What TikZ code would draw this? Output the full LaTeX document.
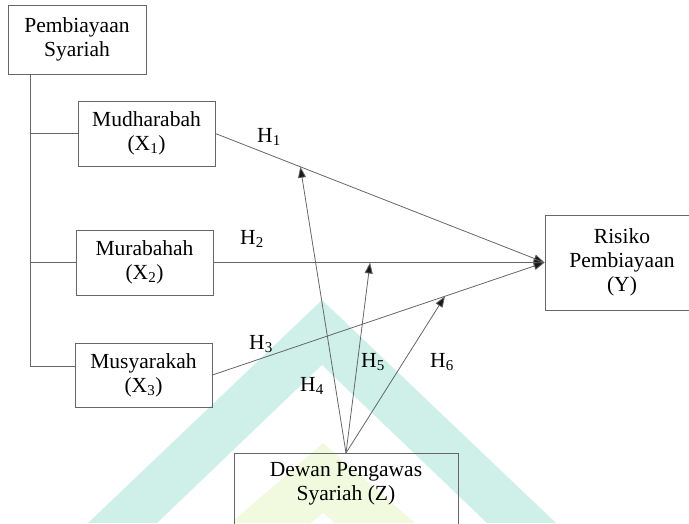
\documentclass[tikz,border=0pt]{standalone}
\usepackage{fontspec}
\setmainfont{Liberation Serif}
\usetikzlibrary{arrows.meta,calc}
\definecolor{wmteal}{RGB}{206,240,232}
\definecolor{wmyellow}{RGB}{241,250,222}

\begin{document}
\begin{tikzpicture}[x=1pt,y=-1pt,
    box/.style={draw=black!60, line width=0.8pt, align=center, inner sep=0pt,
      font=\fontsize{21.5}{24}\selectfont},
    link/.style={draw=black!60, line width=0.8pt},
    hyp/.style={link, -{Triangle[length=11pt,width=8pt,fill=black!90]}},
    hlabel/.style={font=\fontsize{21.5}{24}\selectfont}]
  \path[use as bounding box, clip] (0,0) rectangle (689,523);
  % watermark
  \fill[wmteal] (88,523) -- (322,300) -- (556,523) -- (487,523) -- (322,365) -- (157,523) -- cycle;
  \fill[wmyellow] (231,523) -- (323,443) -- (415,523) -- (335,523) -- (323,513) -- (311,523) -- cycle;

  \node[box, minimum width=138pt, minimum height=69pt] (ps) at (77,39.5) {Pembiayaan\\Syariah};
  \node[box, minimum width=137pt, minimum height=65pt] (x1) at (146.5,133.5) {Mudharabah\\(X\textsubscript{1})};
  \node[box, minimum width=137pt, minimum height=65pt] (x2) at (144.5,262.5) {Murabahah\\(X\textsubscript{2})};
  \node[box, minimum width=137pt, minimum height=64pt] (x3) at (143.5,375) {Musyarakah\\(X\textsubscript{3})};
  \node[box, minimum width=154pt, minimum height=95pt] (y) at (622,262.5) {Risiko\\Pembiayaan\\(Y)};
  \node[box, minimum width=224pt, minimum height=100pt, anchor=north] (z) at (346,453) {};
  \node[box, draw=none, anchor=north] (zt) at (346,462) {Dewan Pengawas\\Syariah (Z)};

  % tree
  \coordinate (top) at ([xshift=23pt]ps.south west);
  \draw[link] (top) |- ([yshift=9pt]x3.west);
  \draw[link] (x1.west) -- (x1.west -| top);
  \draw[link] (x2.west) -- (x2.west -| top);

  % hypotheses
  \draw[hyp] (x1.east) -- (y.west);
  \draw[hyp] (x2.east) -- (y.west);
  \draw[hyp] (x3.east) -- (y.west);
  \draw[hyp] (z.north) -- ($(x1.east)!0.258!(y.west)$);
  \draw[hyp] (z.north) -- ($(x2.east)!0.473!(y.west)$);
  \draw[hyp] (z.north) -- ($(x3.east)!0.70!(y.west)$);

  \node[hlabel] (h1) at (269,137) {H\textsubscript{1}};
  \node[hlabel] (h2) at (252,239) {H\textsubscript{2}};
  \node[hlabel] (h3) at (261,344) {H\textsubscript{3}};
  \node[hlabel] (h4) at (312,386) {H\textsubscript{4}};
  \node[hlabel] (h5) at (373,362) {H\textsubscript{5}};
  \node[hlabel] (h6) at (442,362) {H\textsubscript{6}};
\end{tikzpicture}
\end{document}
